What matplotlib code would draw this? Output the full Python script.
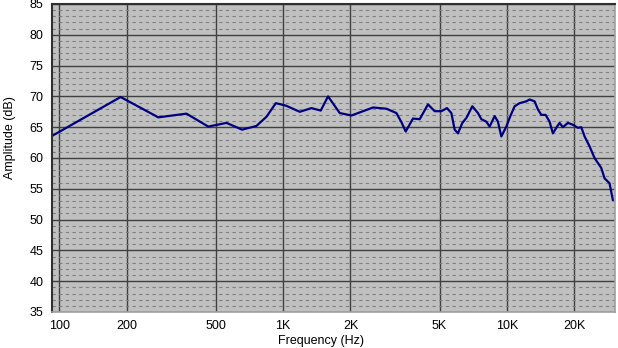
import matplotlib
matplotlib.use("Agg")
import matplotlib.pyplot as plt
from matplotlib.ticker import FixedLocator, MultipleLocator, NullLocator

freq_hz = [93, 188, 277, 370, 463, 559, 656, 760, 843, 928, 1030, 1187, 1339, 1473,
           1588, 1791, 2020, 2200, 2522, 2895, 3208, 3380, 3530, 3803, 4077, 4440,
           4756, 5095, 5397, 5646, 5842, 6043, 6322, 6589, 7006, 7422, 7687, 8091,
           8371, 8812, 9116, 9441, 9938, 10356, 10824, 11394, 12206, 12630, 13295,
           13753, 14243, 14887, 15508, 16046, 16616, 17190, 17783, 18724, 19703,
           20749, 21486, 22233, 23399, 24632, 26387, 27301, 28737, 29726]
amp_db = [63.6, 69.9, 66.6, 67.2, 65.1, 65.7, 64.6, 65.2, 66.7, 68.9, 68.5, 67.5, 68.1,
          67.7, 70.0, 67.3, 66.9, 67.4, 68.2, 68.0, 67.3, 65.8, 64.3, 66.4, 66.3, 68.7,
          67.6, 67.6, 68.1, 67.3, 64.6, 64.0, 65.7, 66.5, 68.4, 67.3, 66.3, 65.9,
          65.1, 66.8, 65.9, 63.5, 65.1, 66.8, 68.4, 68.9, 69.2, 69.5, 69.2,
          67.9, 67.0, 67.0, 65.9, 64.0, 64.9, 65.7, 65.0, 65.7, 65.4,
          64.9, 65.0, 63.5, 61.9, 60.0, 58.4, 56.7, 55.9, 53.2]

x_ticks = [100, 200, 500, 1000, 2000, 5000, 10000, 20000]
x_tick_labels = ["100", "200", "500", "1K", "2K", "5K", "10K", "20K"]
y_ticks = [35, 40, 45, 50, 55, 60, 65, 70, 75, 80, 85]

plt.rcParams['font.family'] = ['Liberation Sans', 'DejaVu Sans']

W, H = 618, 348
fig = plt.figure(figsize=(W / 100, H / 100), dpi=100)
fig.patch.set_facecolor('white')
ax = fig.add_axes([52 / W, (H - 312) / H, (615 - 52) / W, (312 - 4) / H])
ax.set_facecolor('#c0c0c0')

ax.set_xscale('log')
ax.set_xlim(92.8, 30400)
ax.set_ylim(35, 85)

ax.xaxis.set_major_locator(FixedLocator(x_ticks))
ax.xaxis.set_minor_locator(NullLocator())
ax.set_xticklabels(x_tick_labels)
ax.yaxis.set_major_locator(FixedLocator(y_ticks))
ax.yaxis.set_minor_locator(MultipleLocator(1))

ax.grid(True, which='minor', axis='y', color='#808080', linestyle=(0, (3, 3)), linewidth=0.8)
ax.grid(True, which='major', axis='y', color='#404040', linestyle='-', linewidth=1.0)
ax.grid(True, which='major', axis='x', color='#404040', linestyle='-', linewidth=1.0)
ax.set_axisbelow(True)

ax.tick_params(axis='both', which='both', length=0, labelsize=9, colors='black')
ax.tick_params(axis='y', pad=6)
ax.tick_params(axis='x', pad=6)

for side in ['left', 'top']:
    ax.spines[side].set_color('#303030')
    ax.spines[side].set_linewidth(1.5)
for side in ['right', 'bottom']:
    ax.spines[side].set_color('#a0a0a0')
    ax.spines[side].set_linewidth(1.2)

ax.plot(freq_hz, amp_db, color='#000080', linewidth=1.6, solid_joinstyle='round')

fig.text(321 / W, (H - 341) / H, "Frequency (Hz)", ha='center', va='center', fontsize=9)
fig.text(10 / W, (H - 138) / H, "Amplitude (dB)", ha='center', va='center',
         rotation=90, fontsize=9)

fig.savefig("out.png", dpi=100)
